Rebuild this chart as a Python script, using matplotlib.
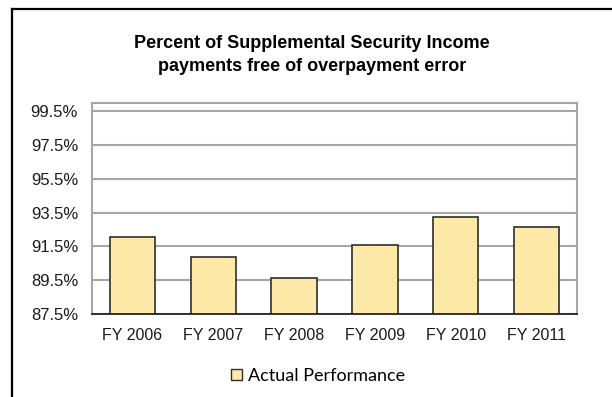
import matplotlib
matplotlib.use("Agg")
import matplotlib.pyplot as plt
from matplotlib.lines import Line2D
from matplotlib.patches import Patch

years = ["FY 2006", "FY 2007", "FY 2008", "FY 2009", "FY 2010", "FY 2011"]
actual = [92.05, 90.87, 89.66, 91.56, 93.24, 92.65]
yticks = [87.5, 89.5, 91.5, 93.5, 95.5, 97.5, 99.5]

bar_color = "#FFE9A9"
edge_color = "#2E2E2E"
grid_color = "#A6A6A6"

plt.rcParams["font.family"] = ["Liberation Sans", "DejaVu Sans"]

fig = plt.figure(figsize=(6.12, 3.97), dpi=100)
ax = fig.add_axes([0.1503, 0.2091, 0.7925, 0.5315])

x = range(len(years))
ax.bar(x, actual, width=0.56, bottom=0, color=bar_color,
       edgecolor=edge_color, linewidth=1.2, zorder=3)

ax.set_ylim(87.5, 100.0)
ax.set_xlim(-0.5, len(years) - 0.5)
ax.set_yticks(yticks)
ax.set_yticklabels([f"{v:.1f}%" for v in yticks])
ax.set_xticks(list(x))
ax.set_xticklabels(years)
ax.tick_params(axis="both", length=0, colors="#1a1a1a")
ax.tick_params(axis="y", pad=10, labelsize=12)
ax.tick_params(axis="x", pad=10, labelsize=11.5)

ax.yaxis.grid(True, color=grid_color, linewidth=1.5, zorder=0)
ax.set_axisbelow(True)
for side in ["left", "top", "right"]:
    ax.spines[side].set_color(grid_color)
    ax.spines[side].set_linewidth(1.5)
ax.spines["bottom"].set_color("#222222")
ax.spines["bottom"].set_linewidth(1.3)
ax.spines["bottom"].set_zorder(4)

fig.text(0.51, 1 - 55 / 397,
         "Percent of Supplemental Security Income\npayments free of overpayment error",
         ha="center", va="center", fontsize=13, fontweight="bold",
         linespacing=1.4)

handle = Patch(facecolor=bar_color, edgecolor=edge_color, linewidth=1.0)
fig.legend([handle], ["Actual Performance"], loc="center",
           bbox_to_anchor=(0.52, 1 - 376 / 397), frameon=False,
           prop={"family": "Lato", "size": 13}, handlelength=0.6,
           handleheight=0.6, handletextpad=0.35)

# frame lines at the top and left edge of the picture
fig.add_artist(Line2D([12 / 612, 1], [1 - 9 / 397, 1 - 9 / 397],
                      transform=fig.transFigure, color="black", linewidth=1.6))
fig.add_artist(Line2D([12 / 612, 12 / 612], [0, 1 - 9 / 397],
                      transform=fig.transFigure, color="black", linewidth=1.6))

fig.savefig("out.png", dpi=100)
